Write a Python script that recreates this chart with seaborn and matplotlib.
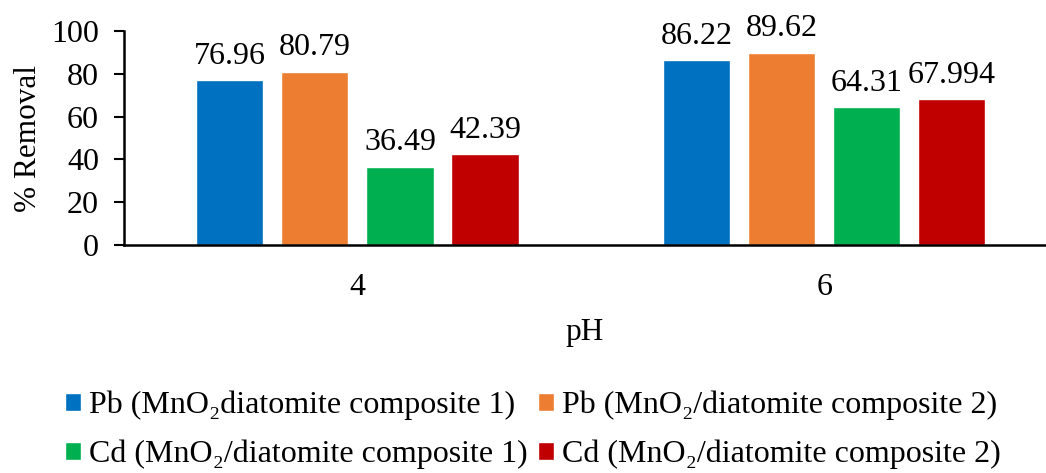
import matplotlib
matplotlib.use("Agg")
import matplotlib.pyplot as plt
import seaborn as sns
import pandas as pd

categories = ["4", "6"]
series = ["Pb (MnO\u2082diatomite composite 1)",
          "Pb (MnO\u2082/diatomite composite 2)",
          "Cd (MnO\u2082/diatomite composite 1)",
          "Cd (MnO\u2082/diatomite composite 2)"]
pb1 = [76.96, 86.22]
pb2 = [80.79, 89.62]
cd1 = [36.49, 64.31]
cd2 = [42.39, 67.994]
value_labels = [["76.96", "86.22"], ["80.79", "89.62"], ["36.49", "64.31"], ["42.39", "67.994"]]
colors = ["#0070C0", "#ED7D31", "#00B050", "#C00000"]

rows = []
for s, vals in zip(series, [pb1, pb2, cd1, cd2]):
    for c, v in zip(categories, vals):
        rows.append({"pH": c, "series": s, "value": v})
df = pd.DataFrame(rows)

sns.set_theme(style="white")
plt.rcParams['font.family'] = ['Liberation Serif', 'DejaVu Serif']
plt.rcParams['text.color'] = 'black'
plt.rcParams['axes.labelcolor'] = 'black'
plt.rcParams['legend.labelcolor'] = 'black'

fig = plt.figure(figsize=(10.46, 4.73), dpi=100)
ax = fig.add_axes([124/1046, 1-245/473, 1-124/1046, (245-31)/473])
sns.barplot(data=df, x="pH", y="value", hue="series", palette=colors,
            width=0.729, gap=0.21, saturation=1, ax=ax, legend=True, errorbar=None)

for cont, labs in zip(ax.containers, value_labels):
    ax.bar_label(cont, labels=labs, padding=7, fontsize=23, color="black")

ax.set_ylim(0, 100)
ax.set_xlim(-0.5, 1.475)
ax.set_yticks([0, 20, 40, 60, 80, 100])
ax.tick_params(axis='y', labelsize=23, length=7, width=1.5, direction='out', left=True, pad=11, colors='black')
ax.tick_params(axis='x', labelsize=23, length=0, pad=20, colors='black')
for sp in ['top', 'right']:
    ax.spines[sp].set_visible(False)
for sp in ['left', 'bottom']:
    ax.spines[sp].set_color('black')
    ax.spines[sp].set_linewidth(1.8)
ax.set_ylabel("% Removal", fontsize=22.5, labelpad=6, color='black')
ax.set_xlabel("pH", fontsize=22.5, labelpad=12, color='black')

handles, labels = ax.get_legend_handles_labels()
ax.get_legend().remove()
order = [0, 2, 1, 3]
fig.legend([handles[i] for i in order], [labels[i] for i in order], ncol=2,
           loc='center left', bbox_to_anchor=(65/1046, 1-430/473), frameon=False,
           fontsize=23, handlelength=0.5, handleheight=0.5, handletextpad=0.25,
           columnspacing=0.34, labelspacing=0.6, borderpad=0, borderaxespad=0,
           labelcolor='black')

fig.savefig("out.png", dpi=100)
